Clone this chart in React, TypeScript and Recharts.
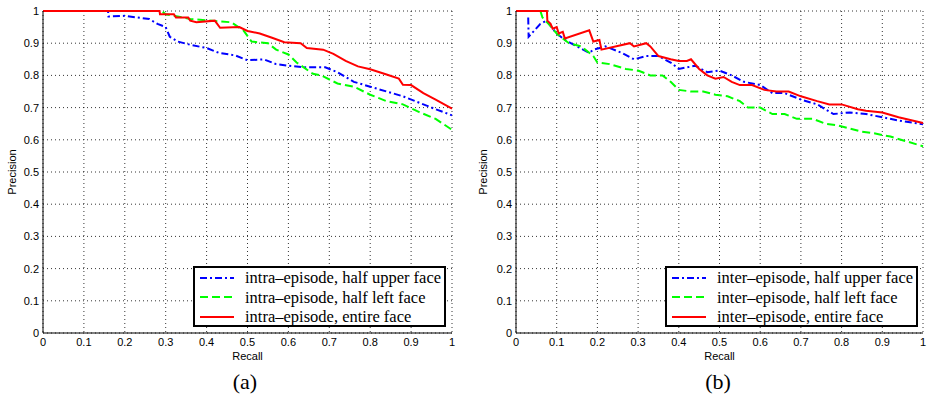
import { LineChart, Line, XAxis, YAxis, CartesianGrid, Legend } from 'recharts'

const TICKS = [0, 0.1, 0.2, 0.3, 0.4, 0.5, 0.6, 0.7, 0.8, 0.9, 1]
const TICK_LABELS = ['0', '0.1', '0.2', '0.3', '0.4', '0.5', '0.6', '0.7', '0.8', '0.9', '1']

// (a) intra-episode
const intraUpperRecall = [0, 0.159, 0.16, 0.2, 0.26, 0.28, 0.3, 0.31, 0.33, 0.36, 0.4, 0.43, 0.47, 0.5, 0.54, 0.57, 0.6, 0.64, 0.69, 0.72, 0.76, 0.8, 0.84, 0.88, 0.92, 0.96, 1.0]
const intraUpperPrecision = [1, 1, 0.983, 0.985, 0.975, 0.96, 0.95, 0.92, 0.905, 0.895, 0.885, 0.87, 0.862, 0.847, 0.85, 0.835, 0.83, 0.825, 0.825, 0.81, 0.78, 0.765, 0.75, 0.735, 0.715, 0.695, 0.676]
const intraLeftRecall = [0, 0.29, 0.3, 0.36, 0.46, 0.49, 0.51, 0.55, 0.57, 0.6, 0.62, 0.66, 0.68, 0.72, 0.76, 0.8, 0.84, 0.88, 0.92, 0.96, 1.0]
const intraLeftPrecision = [1, 1, 0.99, 0.975, 0.965, 0.94, 0.905, 0.9, 0.88, 0.865, 0.84, 0.805, 0.8, 0.775, 0.765, 0.74, 0.72, 0.71, 0.686, 0.665, 0.631]
const intraEntireRecall = [0, 0.285, 0.286, 0.32, 0.325, 0.355, 0.36, 0.375, 0.42, 0.433, 0.48, 0.5, 0.53, 0.56, 0.59, 0.63, 0.645, 0.685, 0.71, 0.74, 0.77, 0.8, 0.84, 0.87, 0.88, 0.9, 0.93, 0.96, 1.0]
const intraEntirePrecision = [1, 1, 0.99, 0.99, 0.98, 0.98, 0.97, 0.965, 0.97, 0.948, 0.95, 0.938, 0.93, 0.917, 0.903, 0.9, 0.885, 0.88, 0.867, 0.845, 0.828, 0.819, 0.803, 0.79, 0.771, 0.77, 0.745, 0.725, 0.697]

// (b) inter-episode
const interUpperRecall = [0.03, 0.031, 0.06, 0.075, 0.1, 0.12, 0.15, 0.18, 0.19, 0.22, 0.26, 0.29, 0.32, 0.35, 0.38, 0.4, 0.44, 0.47, 0.5, 0.53, 0.56, 0.6, 0.63, 0.66, 0.7, 0.74, 0.78, 0.82, 0.86, 0.9, 0.94, 1.0]
const interUpperPrecision = [0.98, 0.92, 0.96, 0.97, 0.93, 0.91, 0.89, 0.87, 0.88, 0.89, 0.87, 0.85, 0.86, 0.86, 0.84, 0.82, 0.83, 0.81, 0.815, 0.8, 0.78, 0.77, 0.745, 0.745, 0.725, 0.71, 0.68, 0.685, 0.68, 0.67, 0.66, 0.648]
const interLeftRecall = [0.06, 0.065, 0.08, 0.1, 0.13, 0.16, 0.19, 0.2, 0.23, 0.27, 0.3, 0.33, 0.36, 0.38, 0.4, 0.43, 0.46, 0.49, 0.52, 0.55, 0.57, 0.6, 0.63, 0.66, 0.69, 0.73, 0.76, 0.79, 0.82, 0.85, 0.88, 0.92, 0.96, 1.0]
const interLeftPrecision = [1, 0.98, 0.96, 0.93, 0.9, 0.89, 0.86, 0.84, 0.835, 0.82, 0.815, 0.8, 0.8, 0.78, 0.755, 0.75, 0.75, 0.74, 0.735, 0.72, 0.7, 0.7, 0.68, 0.68, 0.665, 0.665, 0.65, 0.645, 0.635, 0.625, 0.62, 0.61, 0.595, 0.58]
const interEntireRecall = [0, 0.076, 0.077, 0.085, 0.09, 0.1, 0.105, 0.115, 0.12, 0.18, 0.19, 0.205, 0.21, 0.28, 0.29, 0.32, 0.33, 0.35, 0.38, 0.4, 0.42, 0.43, 0.45, 0.47, 0.49, 0.51, 0.53, 0.55, 0.58, 0.61, 0.64, 0.67, 0.7, 0.74, 0.77, 0.8, 0.84, 0.86, 0.9, 0.94, 1.0]
const interEntirePrecision = [1, 1, 0.97, 0.96, 0.945, 0.95, 0.93, 0.935, 0.915, 0.94, 0.905, 0.91, 0.88, 0.9, 0.89, 0.9, 0.89, 0.86, 0.85, 0.845, 0.845, 0.85, 0.82, 0.8, 0.79, 0.795, 0.78, 0.77, 0.77, 0.755, 0.75, 0.75, 0.735, 0.72, 0.71, 0.71, 0.695, 0.69, 0.685, 0.67, 0.652]

const STYLES = [
  { color: '#0000ff', dash: '7 3 2 3' },
  { color: '#00ff00', dash: '8 4' },
  { color: '#ff0000', dash: undefined },
]

const zip = (r: number[], p: number[]) => r.map((x, i) => ({ recall: x, precision: p[i] }))

const panelA = [
  { name: 'intra\u2013episode, half upper face', data: zip(intraUpperRecall, intraUpperPrecision) },
  { name: 'intra\u2013episode, half left face', data: zip(intraLeftRecall, intraLeftPrecision) },
  { name: 'intra\u2013episode, entire face', data: zip(intraEntireRecall, intraEntirePrecision) },
]
const panelB = [
  { name: 'inter\u2013episode, half upper face', data: zip(interUpperRecall, interUpperPrecision) },
  { name: 'inter\u2013episode, half left face', data: zip(interLeftRecall, interLeftPrecision) },
  { name: 'inter\u2013episode, entire face', data: zip(interEntireRecall, interEntirePrecision) },
]

const tickStyle = { fontSize: 11, fill: '#000', fontFamily: 'Liberation Sans, Arial, sans-serif' }
const fmt = (v: number) => TICK_LABELS[Math.round(v * 10)]

type Series = { name: string; data: { recall: number; precision: number }[] }

function LegendBox({ series }: { series: Series[] }) {
  return (
    <div style={{ border: '2px solid #000', background: '#fff', width: 249, height: 57 }}>
      {series.map((s, i) => (
        <div key={s.name} style={{ display: 'flex', alignItems: 'center', height: 19.5, marginTop: i === 0 ? 0 : 0 }}>
          <svg width={50} height={10} style={{ flex: 'none' }}>
            <line x1={5} y1={5} x2={39} y2={5} stroke={STYLES[i].color} strokeWidth={2} strokeDasharray={STYLES[i].dash} />
          </svg>
          <span style={{ fontFamily: 'Liberation Serif, Times New Roman, serif', fontSize: 16.5, lineHeight: '19px', color: '#000', whiteSpace: 'nowrap' }}>
            {s.name}
          </span>
        </div>
      ))}
    </div>
  )
}

function Panel({ series, width, yAxisWidth, marginRight, labelX, legendLeft }: {
  series: Series[]; width: number; yAxisWidth: number; marginRight: number; labelX: number; legendLeft: number
}) {
  return (
    <LineChart width={width} height={398} margin={{ top: 11, right: marginRight, bottom: 0, left: 0 }}>
      <CartesianGrid stroke="#000" strokeWidth={0.8} strokeDasharray="1 3" />
      <XAxis
        type="number"
        dataKey="recall"
        domain={[0, 1]}
        ticks={TICKS}
        tickFormatter={fmt}
        height={65}
        tick={tickStyle}
        tickLine={false}
        tickSize={4}
        tickMargin={1}
        axisLine={{ stroke: '#000' }}
        label={{ value: 'Recall', position: 'insideTop', offset: 19, style: { fontSize: 11, fill: '#000', fontFamily: 'Liberation Sans, Arial, sans-serif' } }}
      />
      <YAxis
        type="number"
        dataKey="precision"
        domain={[0, 1]}
        ticks={TICKS}
        tickFormatter={fmt}
        width={yAxisWidth}
        tick={tickStyle}
        tickLine={false}
        tickSize={4}
        tickMargin={0}
        axisLine={{ stroke: '#000' }}
        label={{ value: 'Precision', angle: -90, position: 'insideLeft', offset: labelX, style: { textAnchor: 'middle', fontSize: 11, fill: '#000', fontFamily: 'Liberation Sans, Arial, sans-serif' } }}
      />
      {series.map((s, i) => (
        <Line
          key={s.name}
          data={s.data}
          dataKey="precision"
          name={s.name}
          type="linear"
          stroke={STYLES[i].color}
          strokeWidth={2}
          strokeDasharray={STYLES[i].dash}
          dot={false}
          activeDot={false}
          isAnimationActive={false}
        />
      ))}
      <Legend
        layout="vertical"
        align="center"
        verticalAlign="middle"
        wrapperStyle={{ left: legendLeft, top: 266, width: 253, height: 61 }}
        content={() => <LegendBox series={series} />}
      />
    </LineChart>
  )
}

const captionStyle = {
  position: 'absolute' as const,
  top: 369,
  width: 60,
  textAlign: 'center' as const,
  fontFamily: 'Liberation Serif, Times New Roman, serif',
  fontSize: 22,
  color: '#000',
}

export default function App() {
  return (
    <div style={{ position: 'absolute', left: 0, top: 0, width: 928, height: 398, background: '#fff' }}>
      <div style={{ position: 'absolute', left: 0, top: 0 }}>
        <Panel series={panelA} width={470} yAxisWidth={43} marginRight={18} labelX={12} legendLeft={193} />
      </div>
      <div style={{ position: 'absolute', left: 470, top: 0 }}>
        <Panel series={panelB} width={458} yAxisWidth={46} marginRight={5} labelX={13} legendLeft={195} />
      </div>
      <div style={{ ...captionStyle, left: 215 }}>(a)</div>
      <div style={{ ...captionStyle, left: 688 }}>(b)</div>
    </div>
  )
}
